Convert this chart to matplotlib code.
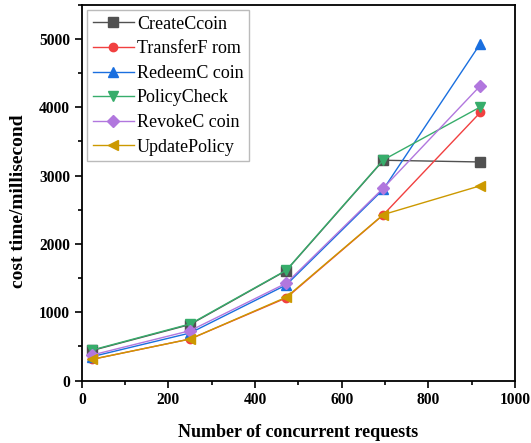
import numpy as np
import matplotlib.pyplot as plt
from matplotlib.ticker import MultipleLocator

plt.rcParams['font.family'] = ['Liberation Serif', 'DejaVu Serif']

# concurrent requests and response times (ms) per operation
requests = [24, 250, 472, 696, 920]
create_coin = [440, 820, 1610, 3225, 3200]
transfer_from = [310, 608, 1210, 2427, 3927]
redeem_coin = [350, 696, 1400, 2800, 4934]
policy_check = [447, 828, 1615, 3230, 4006]
revoke_coin = [374, 730, 1425, 2818, 4318]
update_policy = [311, 608, 1220, 2430, 2852]

labels = ['CreateCcoin', 'TransferF rom', 'RedeemC coin',
          'PolicyCheck', 'RevokeC coin', 'UpdatePolicy']
series = [create_coin, transfer_from, redeem_coin,
          policy_check, revoke_coin, update_policy]
colors = ['#515151', '#F14040', '#1A6FDF', '#37AD6B', '#B177DE', '#CC9900']
markers = ['s', 'o', '^', 'v', 'D', '<']
sizes = [7, 6, 7.5, 7.5, 6, 7.5]

fig = plt.figure(figsize=(5.31, 4.43), dpi=100)
ax = fig.add_axes([0.154, 0.141, 0.816, 0.848])

for ys, lab, c, m, s in zip(series, labels, colors, markers, sizes):
    ax.plot(requests, ys, color=c, marker=m, markersize=s, linewidth=1.0, label=lab)

ax.set_xlim(0, 1000)
ax.set_ylim(0, 5500)
ax.xaxis.set_major_locator(MultipleLocator(200))
ax.xaxis.set_minor_locator(MultipleLocator(100))
ax.yaxis.set_major_locator(MultipleLocator(1000))
ax.yaxis.set_minor_locator(MultipleLocator(500))
ax.tick_params(which='both', direction='out', width=1.2)
ax.tick_params(which='major', length=5, labelsize=11.2)
ax.tick_params(which='minor', length=3)
for lbl in ax.get_xticklabels() + ax.get_yticklabels():
    lbl.set_fontweight('bold')
for sp in ax.spines.values():
    sp.set_linewidth(1.3)

ax.set_xlabel('Number of concurrent requests', fontsize=13, fontweight='bold', labelpad=11)
ax.set_ylabel('cost time/millisecond', fontsize=14, fontweight='bold')
ax.yaxis.set_label_coords(-0.126, 0.478)

leg = ax.legend(loc='upper left', bbox_to_anchor=(0.0, 1.0), fontsize=13,
                frameon=True, fancybox=False, edgecolor='#aaaaaa',
                handlelength=2.3, labelspacing=0.42, borderpad=0.3,
                handletextpad=0.15, borderaxespad=0.3)
leg.get_frame().set_linewidth(1.0)

fig.savefig('out.png', dpi=100)
